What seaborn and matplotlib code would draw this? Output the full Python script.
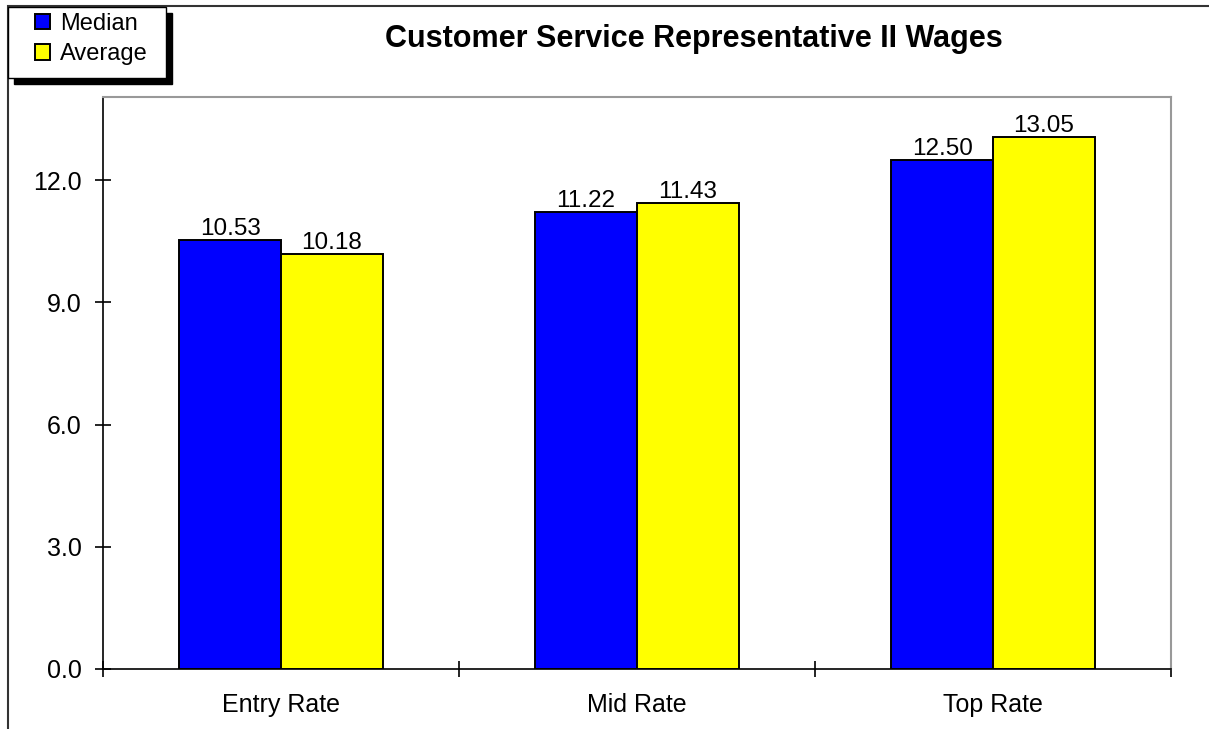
import pandas as pd
import matplotlib.pyplot as plt
import seaborn as sns
from matplotlib.patches import Rectangle

# values
rates = ["Entry Rate", "Mid Rate", "Top Rate"]
median = [10.53, 11.22, 12.50]
average = [10.18, 11.43, 13.05]

df = pd.DataFrame({
    "rate": rates * 2,
    "stat": ["Median"] * 3 + ["Average"] * 3,
    "wage": median + average,
})

sns.set_style("white", {"xtick.bottom": True, "ytick.left": True,
                        "text.color": "black", "xtick.color": "black",
                        "ytick.color": "black", "axes.labelcolor": "black"})
plt.rcParams["font.family"] = ["Liberation Sans", "DejaVu Sans"]

W, H = 1209, 729
fig = plt.figure(figsize=(W / 100, H / 100), dpi=100)
ax = fig.add_axes([103 / W, 1 - 669 / H, (1171 - 103) / W, (669 - 97) / H])

sns.barplot(data=df, x="rate", y="wage", hue="stat",
            palette={"Median": "#0000FF", "Average": "#FFFF00"}, saturation=1,
            width=0.572, gap=0, edgecolor="black", linewidth=1.4,
            ax=ax, legend=True)

for c in ax.containers:
    ax.bar_label(c, fmt="%.2f", padding=0, fontsize=17.5, color="black")

ax.set_ylim(0, 14.04)
ax.set_xlim(-0.5, 2.5)
ax.set_yticks([0, 3, 6, 9, 12])
ax.set_yticklabels(["0.0", "3.0", "6.0", "9.0", "12.0"])
ax.set_xticks([0, 1, 2])
ax.set_xticklabels(rates)
ax.set_xticks([-0.5, 0.5, 1.5, 2.5], minor=True)
ax.tick_params(axis="x", which="major", length=0, labelsize=18, pad=17.5)
ax.tick_params(axis="x", which="minor", length=11.5, direction="inout", width=1.2, color="black")
ax.tick_params(axis="y", length=11.5, direction="inout", width=1.2, color="black", labelsize=18, pad=9.5)
ax.set_xlabel("")
ax.set_ylabel("")
for s in ["left", "bottom"]:
    ax.spines[s].set_color("black")
    ax.spines[s].set_linewidth(1.2)
for s in ["top", "right"]:
    ax.spines[s].set_color("#999999")
    ax.spines[s].set_linewidth(1.5)

# legend box with black drop shadow in the top-left corner
fig.patches.append(Rectangle((14 / W, 1 - 84 / H), 158 / W, 71 / H, transform=fig.transFigure,
                             facecolor="black", edgecolor="black", zorder=3))
fig.patches.append(Rectangle((8 / W, 1 - 78 / H), 158 / W, 71 / H, transform=fig.transFigure,
                             facecolor="white", edgecolor="black", linewidth=1, zorder=3.5))
handles, labels = ax.get_legend_handles_labels()
ax.get_legend().remove()
leg = fig.legend(handles, labels, loc="upper left", bbox_to_anchor=(30 / W, 1 - 8 / H),
                 frameon=False, fontsize=17, handlelength=0.64, handleheight=0.64,
                 handletextpad=0.42, borderpad=0.2, labelspacing=0.36, borderaxespad=0)
leg.set_zorder(4)

fig.text(385 / W, 1 - 47 / H, "Customer Service Representative II Wages",
         ha="left", va="baseline", fontsize=22, fontweight="bold")

# outer chart border
fig.patches.append(Rectangle((8 / W, -0.01), 1.02, 1 - 6 / H + 0.01,
                             transform=fig.transFigure, fill=False,
                             edgecolor="#333333", linewidth=1.5, zorder=0))

fig.savefig("out.png", dpi=100)
